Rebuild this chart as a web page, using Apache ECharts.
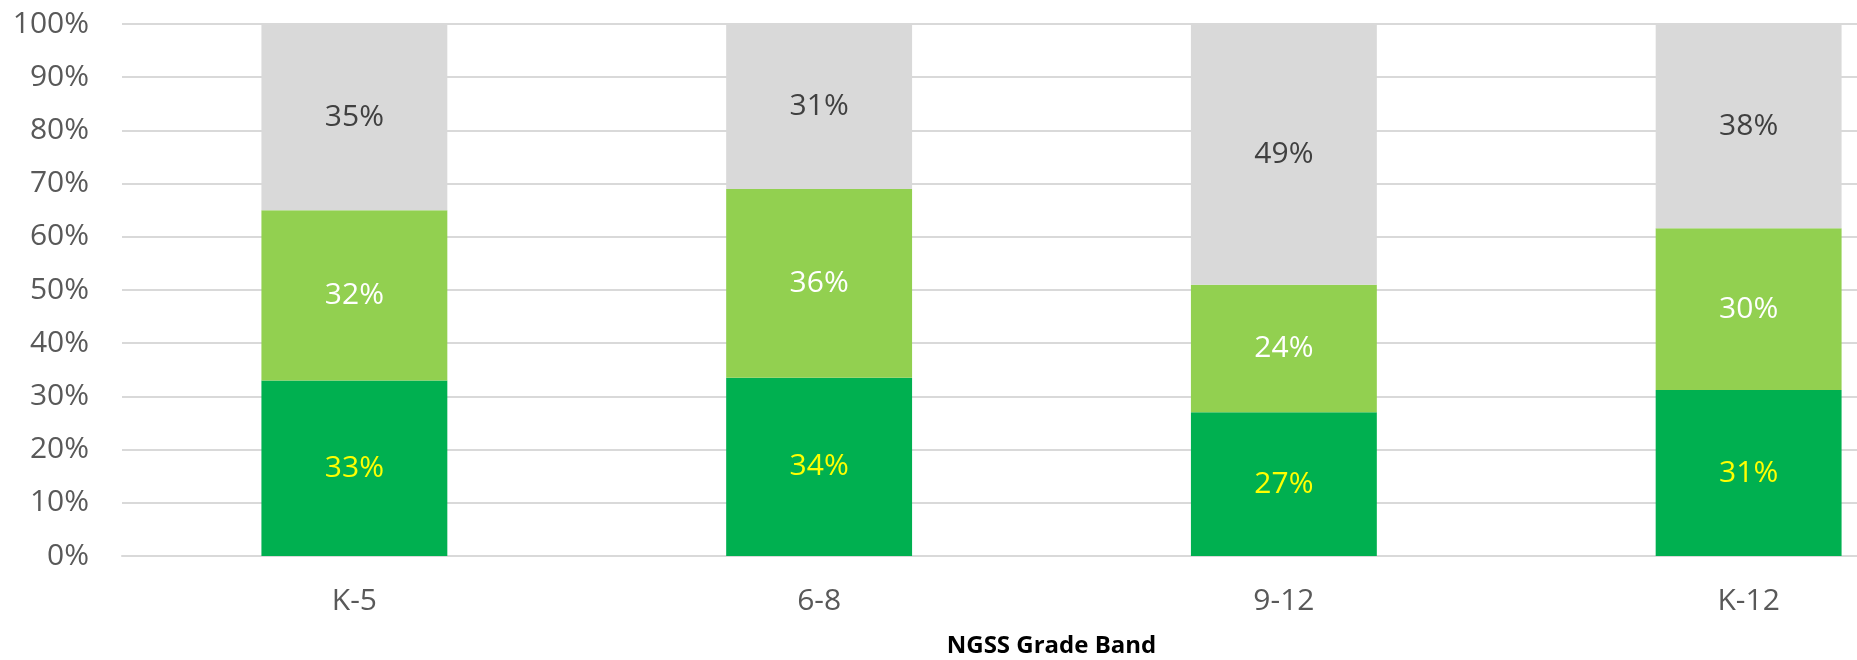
<!DOCTYPE html>
<html>
<head>
<meta charset="utf-8">
<script src="https://cdn.jsdelivr.net/npm/echarts@6/dist/echarts.min.js"></script>
<style>
  html, body { margin: 0; padding: 0; background: #fff; }
  #chart { width: 1857px; height: 660px; }
</style>
</head>
<body>
<div id="chart"></div>
<script>
// datos del gráfico (porcentajes por banda)
const categories = ['K-5', '6-8', '9-12', 'K-12'];
const darkGreen = [33, 33.5, 27, 31.2];
const lightGreen = [32, 35.5, 24, 30.4];
const grey = [35, 31, 49, 38.4];
const yTicks = [0, 10, 20, 30, 40, 50, 60, 70, 80, 90, 100];

(function () {
    const el = document.getElementById('chart');
    const chart = echarts.init(el);
    const font = '"Open Sans", "Noto Sans", sans-serif';

    const label = (color) => ({
        show: true,
        position: 'inside',
        color: color,
        fontFamily: font,
        fontSize: 30,
        formatter: p => Math.round(p.value) + '%'
    });

    const option = {
        animation: false,
        backgroundColor: '#fff',
        // el área de trazado sigue más allá del borde derecho, como en el original
        grid: { left: 122, top: 24, width: 1859, height: 532, outerBoundsMode: 'none', containLabel: false },
        xAxis: {
            type: 'category',
            data: categories,
            name: 'NGSS Grade Band',
            nameLocation: 'middle',
            nameGap: 78,
            nameTextStyle: { color: '#000', fontWeight: 'bold', fontSize: 24, fontFamily: font },
            axisLine: { lineStyle: { color: '#D9D9D9', width: 2 } },
            axisTick: { show: false },
            axisLabel: { color: '#595959', fontSize: 30, fontFamily: font, margin: 30 }
        },
        yAxis: {
            type: 'value',
            min: yTicks[0],
            max: yTicks[yTicks.length - 1],
            interval: 10,
            axisLine: { show: false },
            axisTick: { show: false },
            splitLine: { lineStyle: { color: '#D9D9D9', width: 2 } },
            axisLabel: { color: '#595959', fontSize: 30, fontFamily: font, margin: 33, formatter: '{value}%' }
        },
        series: [
            {
                type: 'bar', stack: 'total', data: darkGreen, barWidth: '40%',
                itemStyle: { color: '#00B050' },
                label: label('#FFFF00')
            },
            {
                type: 'bar', stack: 'total', data: lightGreen,
                itemStyle: { color: '#92D050' },
                label: label('#FFFFFF')
            },
            {
                type: 'bar', stack: 'total', data: grey,
                itemStyle: { color: '#D9D9D9' },
                label: label('#404040')
            }
        ]
    };

    chart.setOption(option);
})();
</script>
</body>
</html>
